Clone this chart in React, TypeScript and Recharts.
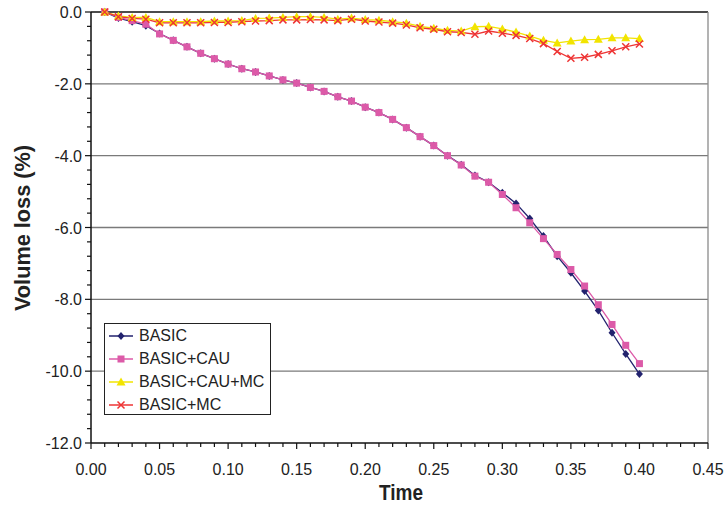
import { LineChart, Line, XAxis, YAxis, ReferenceLine, Legend, Label } from 'recharts';

const TIME = [
  0.01, 0.02, 0.03, 0.04, 0.05, 0.06, 0.07, 0.08, 0.09, 0.1,
  0.11, 0.12, 0.13, 0.14, 0.15, 0.16, 0.17, 0.18, 0.19, 0.2,
  0.21, 0.22, 0.23, 0.24, 0.25, 0.26, 0.27, 0.28, 0.29, 0.3,
  0.31, 0.32, 0.33, 0.34, 0.35, 0.36, 0.37, 0.38, 0.39, 0.4,
];

const BASIC = [
  0.0, -0.17, -0.27, -0.38, -0.6, -0.79, -0.97, -1.15, -1.3, -1.45,
  -1.58, -1.67, -1.78, -1.89, -1.98, -2.1, -2.21, -2.36, -2.48, -2.65,
  -2.8, -2.99, -3.22, -3.47, -3.72, -4.0, -4.25, -4.55, -4.74, -5.03,
  -5.33, -5.75, -6.24, -6.8, -7.26, -7.77, -8.31, -8.93, -9.52, -10.08,
];

const BASIC_CAU = [
  0.0, -0.15, -0.24, -0.34, -0.61, -0.79, -0.97, -1.15, -1.3, -1.45,
  -1.58, -1.67, -1.78, -1.89, -1.98, -2.1, -2.21, -2.36, -2.48, -2.65,
  -2.8, -2.99, -3.22, -3.47, -3.72, -4.0, -4.26, -4.57, -4.74, -5.08,
  -5.45, -5.87, -6.31, -6.75, -7.17, -7.63, -8.15, -8.7, -9.28, -9.79,
];

const BASIC_CAU_MC = [
  0.0, -0.11, -0.15, -0.15, -0.27, -0.27, -0.27, -0.27, -0.25, -0.25,
  -0.24, -0.18, -0.17, -0.15, -0.13, -0.13, -0.15, -0.2, -0.17, -0.21,
  -0.23, -0.27, -0.31, -0.4, -0.45, -0.51, -0.53, -0.41, -0.4, -0.47,
  -0.56, -0.67, -0.79, -0.86, -0.81, -0.77, -0.76, -0.72, -0.72, -0.74,
];

const BASIC_MC = [
  0.0, -0.13, -0.18, -0.2, -0.3, -0.3, -0.3, -0.3, -0.29, -0.29,
  -0.27, -0.25, -0.24, -0.22, -0.22, -0.21, -0.22, -0.24, -0.2, -0.25,
  -0.28, -0.31, -0.36, -0.44, -0.48, -0.55, -0.57, -0.62, -0.53, -0.59,
  -0.65, -0.74, -0.88, -1.1, -1.29, -1.26, -1.18, -1.08, -0.97, -0.89,
];

const X_MAJOR = [0, 0.05, 0.1, 0.15, 0.2, 0.25, 0.3, 0.35, 0.4, 0.45];
const Y_MAJOR = [0, -2, -4, -6, -8, -10, -12];

// minor ticks: 5 per major step
const X_TICKS = Array.from({ length: 46 }, (_, i) => i / 100);
const Y_TICKS = Array.from({ length: 31 }, (_, i) => Math.round((-12 + i * 0.4) * 10) / 10);

const data = TIME.map((t, i) => ({
  t,
  basic: BASIC[i],
  basicCau: BASIC_CAU[i],
  basicCauMc: BASIC_CAU_MC[i],
  basicMc: BASIC_MC[i],
}));

type Shape = 'diamond' | 'square' | 'triangle' | 'cross';

const SERIES: { key: string; name: string; color: string; shape: Shape }[] = [
  { key: 'basic', name: 'BASIC', color: '#22226e', shape: 'diamond' },
  { key: 'basicCau', name: 'BASIC+CAU', color: '#dc5aa8', shape: 'square' },
  { key: 'basicCauMc', name: 'BASIC+CAU+MC', color: '#f2e400', shape: 'triangle' },
  { key: 'basicMc', name: 'BASIC+MC', color: '#ee3434', shape: 'cross' },
];

const FONT = '"Liberation Sans", Arial, sans-serif';

function Marker({ shape, cx, cy, color }: { shape: Shape; cx: number; cy: number; color: string }) {
  if (cx == null || cy == null) return null;
  if (shape === 'diamond') {
    return <path d={`M${cx},${cy - 4}L${cx + 3.5},${cy}L${cx},${cy + 4}L${cx - 3.5},${cy}Z`} fill={color} />;
  }
  if (shape === 'square') {
    return <rect x={cx - 3.5} y={cy - 3.5} width={7} height={7} fill={color} />;
  }
  if (shape === 'triangle') {
    return <path d={`M${cx},${cy - 4.5}L${cx + 4.5},${cy + 3.5}L${cx - 4.5},${cy + 3.5}Z`} fill={color} />;
  }
  return (
    <path
      d={`M${cx - 3.5},${cy - 3.5}L${cx + 3.5},${cy + 3.5}M${cx + 3.5},${cy - 3.5}L${cx - 3.5},${cy + 3.5}`}
      stroke={color}
      strokeWidth={1.5}
      fill="none"
    />
  );
}

function XTick({ x, y, payload, index }: any) {
  const major = index % 5 === 0;
  return (
    <g>
      <line x1={x} x2={x} y1={y} y2={y + (major ? 6 : 4)} stroke="#111" strokeWidth={1.2} />
      {major && (
        <text x={x} y={y + 32} textAnchor="middle" fontFamily={FONT} fontSize={16} fill="#222">
          {payload.value.toFixed(2)}
        </text>
      )}
    </g>
  );
}

function YTick({ x, y, payload, index }: any) {
  const major = index % 5 === 0;
  return (
    <g>
      <line x1={x - (major ? 6 : 4)} x2={x} y1={y} y2={y} stroke="#111" strokeWidth={1.2} />
      {major && (
        <text x={x - 9} y={y + 6} textAnchor="end" fontFamily={FONT} fontSize={16} fill="#222">
          {payload.value.toFixed(1)}
        </text>
      )}
    </g>
  );
}

function LegendBox() {
  return (
    <div
      style={{
        width: 165,
        height: 90,
        border: '1px solid #222',
        background: '#fff',
        paddingTop: 0,
        fontFamily: FONT,
        fontSize: 16,
        color: '#222',
      }}
    >
      {SERIES.map((s) => (
        <div key={s.key} style={{ display: 'flex', alignItems: 'center', height: 23 }}>
          <svg width={34} height={14} style={{ flex: 'none' }}>
            <line x1={4} x2={28} y1={7} y2={7} stroke={s.color} strokeWidth={1.5} />
            <Marker shape={s.shape} cx={16} cy={7} color={s.color} />
          </svg>
          <span style={{ lineHeight: '16px' }}>{s.name}</span>
        </div>
      ))}
    </div>
  );
}

export default function App() {
  return (
    <div style={{ position: 'absolute', left: 0, top: 0, width: 726, height: 508, background: '#fff' }}>
      <LineChart width={726} height={508} data={data} margin={{ top: 12, right: 18, bottom: 35, left: 30 }}>
        <XAxis
          dataKey="t"
          type="number"
          domain={[0, 0.45]}
          ticks={X_TICKS}
          interval={0}
          height={30}
          tickSize={0}
          tickMargin={0}
          tickLine={false}
          tick={<XTick />}
          axisLine={{ stroke: '#111', strokeWidth: 1.5 }}
        >
          <Label
            content={() => (
              <text
                x={401}
                y={500}
                textAnchor="middle"
                fontFamily={FONT}
                fontWeight="bold"
                fontSize={22}
                textLength={44}
                lengthAdjust="spacingAndGlyphs"
                fill="#222"
              >
                Time
              </text>
            )}
          />
        </XAxis>
        <YAxis
          type="number"
          domain={[-12, 0]}
          ticks={Y_TICKS}
          interval={0}
          width={61}
          tickSize={0}
          tickMargin={0}
          tickLine={false}
          tick={<YTick />}
          axisLine={{ stroke: '#111', strokeWidth: 1.5 }}
        >
          <Label
            content={() => (
              <text
                x={30}
                y={228}
                transform="rotate(-90 30 228)"
                textAnchor="middle"
                fontFamily={FONT}
                fontWeight="bold"
                fontSize={22}
                textLength={166}
                lengthAdjust="spacingAndGlyphs"
                fill="#222"
              >
                Volume loss (%)
              </text>
            )}
          />
        </YAxis>
        {Y_MAJOR.filter((v) => v !== 0 && v !== -12).map((v) => (
          <ReferenceLine key={v} y={v} stroke="#7a7a7a" strokeWidth={1.3} />
        ))}
        <ReferenceLine y={0} stroke="#111" strokeWidth={1.5} />
        <ReferenceLine x={0.45} stroke="#8a8a8a" strokeWidth={1.3} />
        {SERIES.map((s) => (
          <Line
            key={s.key}
            dataKey={s.key}
            name={s.name}
            stroke={s.color}
            strokeWidth={1.3}
            isAnimationActive={false}
            dot={(p: any) => <Marker key={`${s.key}-${p.index}`} shape={s.shape} cx={p.cx} cy={p.cy} color={s.color} />}
            activeDot={false}
          />
        ))}
        <Legend
          layout="vertical"
          align="center"
          verticalAlign="middle"
          content={() => <LegendBox />}
          wrapperStyle={{ left: 104, top: 323, width: 167, height: 92 }}
        />
      </LineChart>
    </div>
  );
}
